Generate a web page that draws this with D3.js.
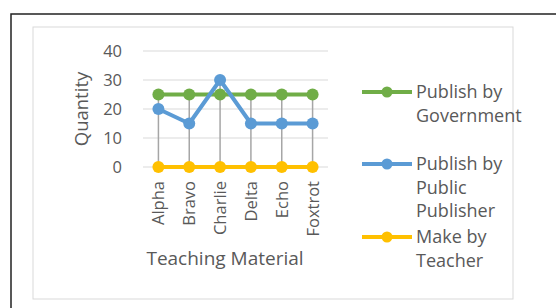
<!DOCTYPE html>
<html><head><meta charset="utf-8">
<script src="https://cdn.jsdelivr.net/npm/d3@7"></script>
<style>body{margin:0;background:#fff}svg{display:block}text{font-family:"Open Sans",sans-serif;fill:#595959}</style>
</head><body><svg id="c" width="556" height="308"></svg>
<script>
const categories = ["Alpha","Bravo","Charlie","Delta","Echo","Foxtrot"];
const government = [25,25,25,25,25,25];
const publicPublisher = [20,15,30,15,15,15];
const teacher = [0,0,0,0,0,0];
const yTicks = [0,10,20,30,40];
const seriesNames = [["Publish by","Government"],["Publish by","Public","Publisher"],["Make by","Teacher"]];
const colors = ["#70AD47","#5B9BD5","#FFC000"];

const svg = d3.select("#c");
svg.append("rect").attr("x",11).attr("y",14).attr("width",600).attr("height",400).attr("fill","none").attr("stroke","#222").attr("stroke-width",1.5);
svg.append("rect").attr("x",33).attr("y",27).attr("width",480).attr("height",272).attr("fill","#fff").attr("stroke","#d9d9d9").attr("stroke-width",1);

const x = d3.scaleBand().domain(categories).range([143,328]);
const y = d3.scaleLinear().domain([0,40]).range([167,51]);
const cx = c => x(c)+x.bandwidth()/2;

const g = svg.append("g");
g.selectAll(".grid").data(yTicks).join("line").attr("x1",143).attr("x2",328)
 .attr("y1",d=>y(d)).attr("y2",d=>y(d)).attr("stroke","#d9d9d9").attr("stroke-width",1);
g.selectAll(".yl").data(yTicks).join("text").attr("x",122).attr("y",d=>y(d)).attr("dy","0.36em")
 .attr("text-anchor","end").attr("font-size",16.5).text(d=>d);
const series = [government, publicPublisher, teacher];
g.selectAll(".hl").data(categories).join("line")
 .attr("x1",cx).attr("x2",cx)
 .attr("y1",(c,i)=>y(d3.max(series,s=>s[i]))).attr("y2",(c,i)=>y(d3.min(series,s=>s[i])))
 .attr("stroke","#a6a6a6").attr("stroke-width",1.5);
const line = d3.line().x((d,i)=>cx(categories[i])).y(d=>y(d));
series.forEach((s,k)=>{
  g.append("path").datum(s).attr("d",line).attr("fill","none").attr("stroke",colors[k]).attr("stroke-width",4).attr("stroke-linejoin","round");
  g.selectAll(null).data(s).join("circle").attr("cx",(d,i)=>cx(categories[i])).attr("cy",d=>y(d)).attr("r",6).attr("fill",colors[k]);
});
g.selectAll(".xl").data(categories).join("text")
 .attr("transform",c=>`translate(${cx(c)+6},181) rotate(-90)`)
 .attr("text-anchor","end").attr("font-size",16.5).text(d=>d);
svg.append("text").attr("x",225).attr("y",265).attr("text-anchor","middle").attr("font-size",19).text("Teaching Material");
svg.append("text").attr("transform","translate(88,109) rotate(-90)").attr("text-anchor","middle").attr("font-size",18.5).text("Quantity");

const legY = [92,164,237];
seriesNames.forEach((names,k)=>{
  const lg = svg.append("g");
  lg.append("line").attr("x1",362).attr("x2",412).attr("y1",legY[k]).attr("y2",legY[k]).attr("stroke",colors[k]).attr("stroke-width",4);
  lg.append("circle").attr("cx",387).attr("cy",legY[k]).attr("r",5.5).attr("fill",colors[k]);
  names.forEach((t,j)=>{
    lg.append("text").attr("x",416).attr("y",legY[k]+j*23.5).attr("dy","0.36em").attr("font-size",18).text(t);
  });
});
</script></body></html>
